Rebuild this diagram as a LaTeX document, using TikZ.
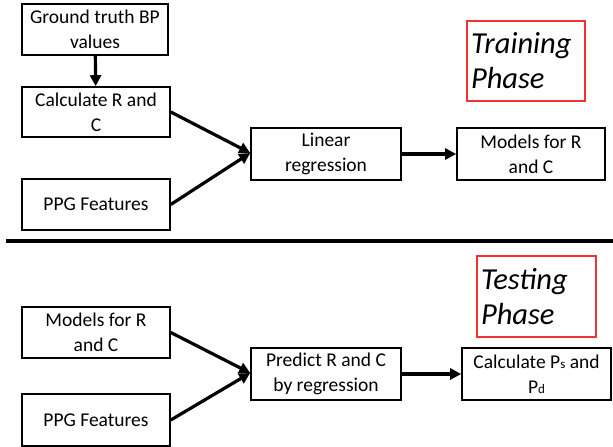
\documentclass[tikz,border=0pt]{standalone}
\usepackage{fontspec}
\setmainfont{Carlito}
\usetikzlibrary{arrows.meta}
\definecolor{phasered}{RGB}{240,50,50}
\begin{document}
\begin{tikzpicture}[x=1pt,y=-1pt,
  box/.style={draw=black, line width=1.6pt, inner sep=0pt, align=center,
    font=\fontsize{19.5}{25}\selectfont},
  phase/.style={draw=phasered, line width=1.3pt, inner sep=0pt, align=left,
    font=\fontsize{30.5}{35}\selectfont\itshape},
  conn/.style={line width=3.2pt, -{Triangle[length=11pt,width=11pt]}}]
\useasboundingbox (0,0) rectangle (613,447);
% Training
\node[box, minimum width=146pt, minimum height=51pt] (gt) at (95,29.5) {Ground truth BP\\values};
\node[box, minimum width=148pt, minimum height=50pt] (calc) at (96,112) {Calculate R and\\C};
\node[box, minimum width=148pt, minimum height=51pt] (ppga) at (96,204.5) {PPG Features};
\node[box, minimum width=150pt, minimum height=52pt] (lr) at (326,154) {Linear\\regression};
\node[box, minimum width=148pt, minimum height=52pt] (moda) at (531,154) {Models for R\\and C};
\node[phase, minimum width=118pt, minimum height=80pt, text width=110pt] (train) at (526,61) {Training\\Phase};
\draw[conn] (gt) -- (calc);
\draw[conn] (calc.east) -- ([yshift=1pt]lr.west);
\draw[conn] (ppga.east) -- ([yshift=1pt]lr.west);
\draw[conn] (lr) -- (moda);
% separator
\coordinate (sepL) at (6,241);
\coordinate (sepR) at (613,241);
\draw[line width=4pt] (sepL) -- (sepR);
% Testing
\node[box, minimum width=148pt, minimum height=51pt] (modb) at (96,332.5) {Models for R\\and C};
\node[box, minimum width=148pt, minimum height=52pt] (ppgb) at (96,420) {PPG Features};
\node[box, minimum width=150pt, minimum height=52pt] (pred) at (326,374) {Predict R and C\\by regression};
\node[box, minimum width=149pt, minimum height=52pt] (calcp) at (536.5,374) {Calculate P{\fontsize{13}{13}\selectfont s} and\\P{\fontsize{13}{13}\selectfont d}};
\node[phase, minimum width=119pt, minimum height=81pt, text width=111pt] (test) at (536.5,296.5) {Testing\\Phase};
\draw[conn] (modb.east) -- ([yshift=1pt]pred.west);
\draw[conn] (ppgb.east) -- ([yshift=1pt]pred.west);
\draw[conn] (pred) -- (calcp);
\end{tikzpicture}
\end{document}
